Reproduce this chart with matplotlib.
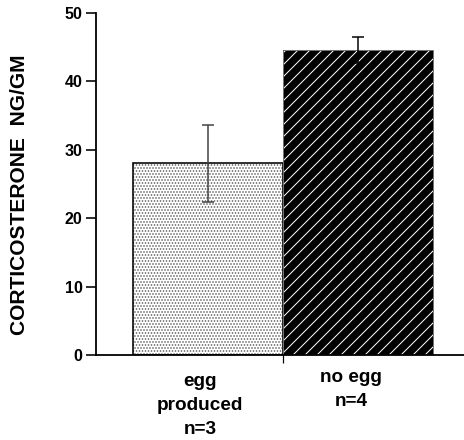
import matplotlib
matplotlib.use('Agg')
import matplotlib.pyplot as plt

# data
groups = ['egg\nproduced\nn=3', 'no egg\nn=4']
means = [28.0, 44.6]
errors = [5.6, 1.9]
yticks = [0, 10, 20, 30, 40, 50]

plt.rcParams['font.family'] = ['Liberation Sans', 'DejaVu Sans']
plt.rcParams['font.weight'] = 'bold'
plt.rcParams['hatch.linewidth'] = 1.0

# dpi 72 so points == pixels
fig = plt.figure(figsize=(464 / 72, 440 / 72), dpi=72)
ax = fig.add_axes([95.5 / 464, 85 / 440, 1 - 95.5 / 464, 342 / 440])

xpos = list(range(len(means)))

# hatched fills (hatch colour taken from edgecolor), outlines drawn on top
ax.bar(xpos[0], means[0], width=1.0, color='white', edgecolor='0.35', hatch='....', linewidth=0)
ax.bar(xpos[1], means[1], width=1.0, color='black', edgecolor='white', hatch='//', linewidth=0)
ax.bar(xpos, means, width=1.0, fill=False, edgecolor=['black', '0.45'], linewidth=[1.6, 1.0])

# error bars: the one inside the black bar is drawn black, as in the original
ecolors = ['0.25', 'black']
for x, m, e, c in zip(xpos, means, errors, ecolors):
    ax.errorbar(x, m, yerr=e, fmt='none', ecolor=c,
                elinewidth=1.5, capsize=6, capthick=1.5)

ax.set_xlim(-0.753, 1.707)
ax.set_ylim(0, 50)
ax.set_yticks(yticks)
ax.set_yticklabels([str(t) for t in yticks], fontsize=16, fontweight='bold')
ax.tick_params(axis='y', direction='out', length=10, width=1.6, pad=3)
ax.set_xticks([0.5])
ax.set_xticklabels([''])
ax.tick_params(axis='x', direction='out', length=8, width=1.2)

ax.spines['top'].set_visible(False)
ax.spines['right'].set_visible(False)
ax.spines['left'].set_linewidth(1.8)
ax.spines['bottom'].set_linewidth(1.8)

ax.set_ylabel('CORTICOSTERONE  NG/GM', fontsize=21, fontweight='bold')
ax.yaxis.set_label_coords(-66 / 368.5, 0.469)

# category labels under the bars
label_x = [-0.053, 0.953]
label_off = [-18, -14]
for lx, off, txt in zip(label_x, label_off, groups):
    ax.annotate(txt, xy=(lx, 0), xycoords=('data', 'axes fraction'),
                xytext=(0, off), textcoords='offset points',
                ha='center', va='top', fontsize=19, fontweight='bold',
                linespacing=1.55, annotation_clip=False)

plt.savefig('out.png', dpi=72)
